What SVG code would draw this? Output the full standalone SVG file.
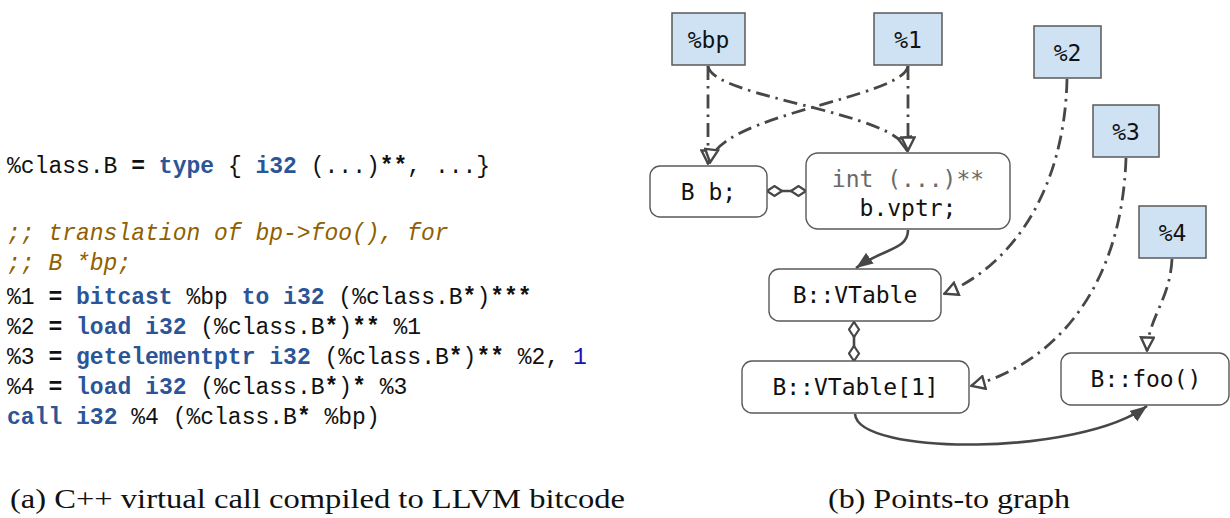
<svg xmlns="http://www.w3.org/2000/svg" width="1230" height="518" viewBox="0 0 1230 518">
  <style>
    .code { font-family: "Liberation Mono", "DejaVu Sans Mono", monospace; font-size: 23px; fill: #111; white-space: pre; }
    .kw { fill: #2b5597; font-weight: bold; }
    .num { fill: #1414b4; }
    .op { font-weight: bold; }
    .cmt { fill: #8f5f00; font-style: italic; }
    .cap { font-family: "Liberation Serif", "DejaVu Serif", serif; font-size: 27px; fill: #111; }
    .var rect { fill: #cfe2f3; stroke: #595959; stroke-width: 1.5; }
    .obj rect { fill: #ffffff; stroke: #595959; stroke-width: 1.4; }
    .lbl { font-family: "DejaVu Sans Mono", monospace; font-size: 23px; fill: #111; text-anchor: middle; }
    .dim { fill: #6a6a6a; }
    .pts { fill: none; stroke: #474747; stroke-width: 2.8; stroke-dasharray: 14 6 2.5 6; }
    .edge { fill: none; stroke: #474747; stroke-width: 2.6; }
  </style>
  <defs>
    <marker id="open" viewBox="0 0 16 16" refX="15" refY="8" markerWidth="16" markerHeight="16" markerUnits="userSpaceOnUse" orient="auto">
      <path d="M1.5,1.5 L14.5,8 L1.5,14.5 Z" fill="#ffffff" stroke="#474747" stroke-width="2.4" stroke-linejoin="miter"/>
    </marker>
    <marker id="solid" viewBox="0 0 18 14" refX="17" refY="7" markerWidth="18" markerHeight="14" markerUnits="userSpaceOnUse" orient="auto">
      <path d="M0,0.5 L17,7 L0,13.5 Z" fill="#474747"/>
    </marker>
    <marker id="diamond" viewBox="0 0 17 13" refX="16" refY="6.5" markerWidth="17" markerHeight="13" markerUnits="userSpaceOnUse" orient="auto-start-reverse">
      <path d="M1,6.5 L8.5,1.5 L16,6.5 L8.5,11.5 Z" fill="#ffffff" stroke="#474747" stroke-width="2.2"/>
    </marker>
  </defs>

  <!-- LLVM listing -->
  <g id="listing">
    <text class="code" x="7" y="173">%class.B <tspan class="op">=</tspan> <tspan class="kw">type</tspan> { <tspan class="kw">i32</tspan> (...)<tspan class="op">**</tspan>, ...}</text>
    <text class="code cmt" x="7" y="240">;; translation of bp-&gt;foo(), for</text>
    <text class="code cmt" x="7" y="270">;; B *bp;</text>
    <text class="code" x="7" y="304">%1 <tspan class="op">=</tspan> <tspan class="kw">bitcast</tspan> %bp <tspan class="kw">to</tspan> <tspan class="kw">i32</tspan> (%class.B<tspan class="op">*</tspan>)<tspan class="op">***</tspan></text>
    <text class="code" x="7" y="334">%2 <tspan class="op">=</tspan> <tspan class="kw">load</tspan> <tspan class="kw">i32</tspan> (%class.B<tspan class="op">*</tspan>)<tspan class="op">**</tspan> %1</text>
    <text class="code" x="7" y="364">%3 <tspan class="op">=</tspan> <tspan class="kw">getelementptr</tspan> <tspan class="kw">i32</tspan> (%class.B<tspan class="op">*</tspan>)<tspan class="op">**</tspan> %2, <tspan class="num">1</tspan></text>
    <text class="code" x="7" y="394">%4 <tspan class="op">=</tspan> <tspan class="kw">load</tspan> <tspan class="kw">i32</tspan> (%class.B<tspan class="op">*</tspan>)<tspan class="op">*</tspan> %3</text>
    <text class="code" x="7" y="424"><tspan class="kw">call</tspan> <tspan class="kw">i32</tspan> %4 (%class.B<tspan class="op">*</tspan> %bp)</text>
  </g>

  <!-- captions -->
  <text class="cap" x="10" y="508" textLength="615" lengthAdjust="spacingAndGlyphs">(a) C++ virtual call compiled to LLVM bitcode</text>
  <text class="cap" x="828" y="508" textLength="242" lengthAdjust="spacingAndGlyphs">(b) Points-to graph</text>

  <!-- connectors -->
  <g id="connectors">
    <path class="pts" d="M708,66 L708,164" marker-end="url(#open)"/>
    <path class="pts" d="M708,66 C712,98 900,112 907,151" marker-end="url(#open)"/>
    <path class="pts" d="M908,66 C904,98 716,114 710,163" marker-end="url(#open)"/>
    <path class="pts" d="M908,66 L908,151" marker-end="url(#open)"/>
    <path class="pts" d="M1067,79 C1065,180 1020,262 944,294" marker-end="url(#open)"/>
    <path class="pts" d="M1126,158 C1122,282 1060,362 971,386" marker-end="url(#open)"/>
    <path class="pts" d="M1172,259 C1170,300 1148,318 1147,351" marker-end="url(#open)"/>
    <path class="edge" d="M908,230 C908,250 884,248 856,268" marker-end="url(#solid)"/>
    <path class="edge" d="M855,414 C858,456 1080,456 1147,406" marker-end="url(#solid)"/>
    <path class="edge" d="M767,191 L806,191" marker-start="url(#diamond)" marker-end="url(#diamond)"/>
    <path class="edge" d="M854,322 L854,361" marker-start="url(#diamond)" marker-end="url(#diamond)"/>
  </g>

  <!-- variables -->
  <g id="var-bp" class="var"><rect x="672" y="13" width="73" height="52"/><text class="lbl" x="708.5" y="48">%bp</text></g>
  <g id="var-1" class="var"><rect x="874" y="13" width="68" height="52"/><text class="lbl" x="908" y="48">%1</text></g>
  <g id="var-2" class="var"><rect x="1034" y="26" width="67" height="52"/><text class="lbl" x="1067.5" y="61">%2</text></g>
  <g id="var-3" class="var"><rect x="1093" y="105" width="66" height="52"/><text class="lbl" x="1126" y="140">%3</text></g>
  <g id="var-4" class="var"><rect x="1139" y="206" width="67" height="52"/><text class="lbl" x="1172.5" y="241">%4</text></g>

  <!-- abstract objects -->
  <g id="obj-b" class="obj"><rect x="650" y="166" width="117" height="51" rx="10"/><text class="lbl" x="708.5" y="200">B b;</text></g>
  <g id="obj-vptr" class="obj"><rect x="806" y="153" width="204" height="76" rx="12"/><text class="lbl dim" x="908" y="187">int (...)**</text><text class="lbl" x="908" y="216">b.vptr;</text></g>
  <g id="obj-vtable" class="obj"><rect x="769" y="269" width="172" height="52" rx="10"/><text class="lbl" x="855" y="303">B::VTable</text></g>
  <g id="obj-vtable1" class="obj"><rect x="742" y="361" width="227" height="52" rx="10"/><text class="lbl" x="855.5" y="395">B::VTable[1]</text></g>
  <g id="obj-foo" class="obj"><rect x="1061" y="353" width="168" height="52" rx="10"/><text class="lbl" x="1146" y="387">B::foo()</text></g>
</svg>
